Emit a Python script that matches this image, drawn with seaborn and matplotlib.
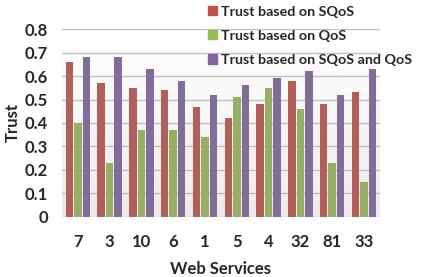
import numpy as np
import pandas as pd
import seaborn as sns
import matplotlib.pyplot as plt
import matplotlib.patches as mpatches

services = ['7', '3', '10', '6', '1', '5', '4', '32', '81', '33']
sqos = [0.66, 0.57, 0.55, 0.54, 0.47, 0.42, 0.48, 0.58, 0.48, 0.53]
qos = [0.40, 0.23, 0.37, 0.37, 0.34, 0.51, 0.55, 0.46, 0.23, 0.15]
both = [0.68, 0.68, 0.63, 0.58, 0.52, 0.56, 0.59, 0.62, 0.52, 0.63]
series = ['Trust based on SQoS', 'Trust based on QoS', 'Trust based on SQoS and QoS']
my_cols = ['#C0504D', '#9BBB59', '#8064A2']

df = pd.DataFrame({'service': services * 3,
                   'trust': sqos + qos + both,
                   'series': np.repeat(series, len(services))})

sns.set_style('white')
plt.rcParams['font.family'] = ['Lato', 'DejaVu Sans']
plt.rcParams['font.weight'] = 'bold'

fig = plt.figure(figsize=(4.24, 2.77), dpi=100)
ax = fig.add_axes([0.146, 0.217, 0.75, 0.678])

# light gradient background like the Excel plot area
grad = np.linspace(0.92, 1.0, 100).reshape(-1, 1)
ax.imshow(grad, cmap='gray', vmin=0, vmax=1, aspect='auto',
          extent=[-0.5, 9.5, 0, 0.8], origin='lower', zorder=0)

sns.barplot(ax=ax, data=df, x='service', y='trust', hue='series', palette=my_cols,
            width=0.8, gap=0.12, edgecolor='none', legend=False, zorder=3)

ax.set_xlim(-0.5, 9.5)
ax.set_ylim(0, 0.8)
ax.set_yticks(np.arange(0, 0.81, 0.1))
ax.set_yticklabels(['0'] + ['%.1f' % v for v in np.arange(0.1, 0.81, 0.1)])
ax.yaxis.grid(True, color='#BFBFBF', lw=1, zorder=1)
ax.set_axisbelow(True)
for s in ax.spines.values():
    s.set_visible(False)
ax.tick_params(axis='both', length=0, labelsize=12)
ax.tick_params(axis='y', pad=10)
ax.tick_params(axis='x', pad=12)
ax.set_xlabel('Web Services', fontsize=12, fontweight='bold', labelpad=8)
ax.set_ylabel('Trust', fontsize=12, fontweight='bold', labelpad=3)

handles = [mpatches.Patch(color=c, label=l) for c, l in zip(my_cols, series)]
fig.legend(handles=handles, loc='upper left', bbox_to_anchor=(0.478, 1.0), frameon=False,
           fontsize=10.3, handlelength=0.6, handleheight=0.6, handletextpad=0.25,
           labelspacing=0.85, borderaxespad=0)

plt.savefig('out.png', dpi=100)
